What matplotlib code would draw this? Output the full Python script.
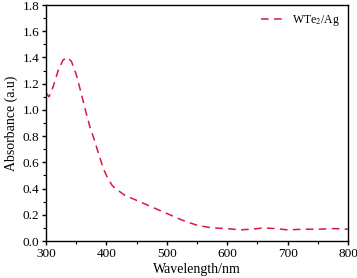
import matplotlib.pyplot as plt
from matplotlib.ticker import MultipleLocator

plt.rcParams['font.family'] = ['Liberation Serif', 'DejaVu Serif']
plt.rcParams['mathtext.fontset'] = 'stix'

# Absorbance spectrum
wavelength = [300, 305, 312, 320, 328, 335, 342, 350, 358, 365, 372, 380, 388,
              395, 402, 410, 418, 430, 450, 475, 500, 525, 550, 575, 600, 620,
              640, 660, 680, 700, 725, 750, 775, 800]
absorbance = [1.13, 1.10, 1.18, 1.30, 1.38, 1.40, 1.37, 1.27, 1.13, 1.00, 0.88,
              0.77, 0.65, 0.55, 0.48, 0.42, 0.39, 0.35, 0.31, 0.26, 0.21, 0.16,
              0.12, 0.10, 0.095, 0.085, 0.09, 0.10, 0.095, 0.085, 0.09, 0.09,
              0.095, 0.09]

fig = plt.figure(figsize=(3.57, 2.78), dpi=100)
ax = fig.add_axes([0.129, 0.133, 0.846, 0.849])

ax.plot(wavelength, absorbance, '--', color='#d7193f', lw=1.1,
        dashes=(5, 3.5), label='WTe$_2$/Ag')

ax.set_xlim(300, 800)
ax.set_ylim(0, 1.8)
ax.xaxis.set_major_locator(MultipleLocator(100))
ax.xaxis.set_minor_locator(MultipleLocator(50))
ax.yaxis.set_major_locator(MultipleLocator(0.2))
ax.yaxis.set_minor_locator(MultipleLocator(0.1))
ax.yaxis.set_major_formatter(plt.FormatStrFormatter('%.1f'))
ax.tick_params(which='major', direction='out', length=3, width=1, labelsize=9.5, pad=2)
ax.tick_params(which='minor', direction='out', length=2, width=0.8)
for s in ax.spines.values():
    s.set_linewidth(1)

ax.set_xlabel('Wavelength/nm', fontsize=10, labelpad=2)
ax.set_ylabel('Absorbance (a.u)', fontsize=10, labelpad=3)
ax.legend(loc='upper right', frameon=False, fontsize=8.5, handlelength=2.2,
          handletextpad=0.4, borderaxespad=0.3)

fig.savefig('out.png', dpi=100)
